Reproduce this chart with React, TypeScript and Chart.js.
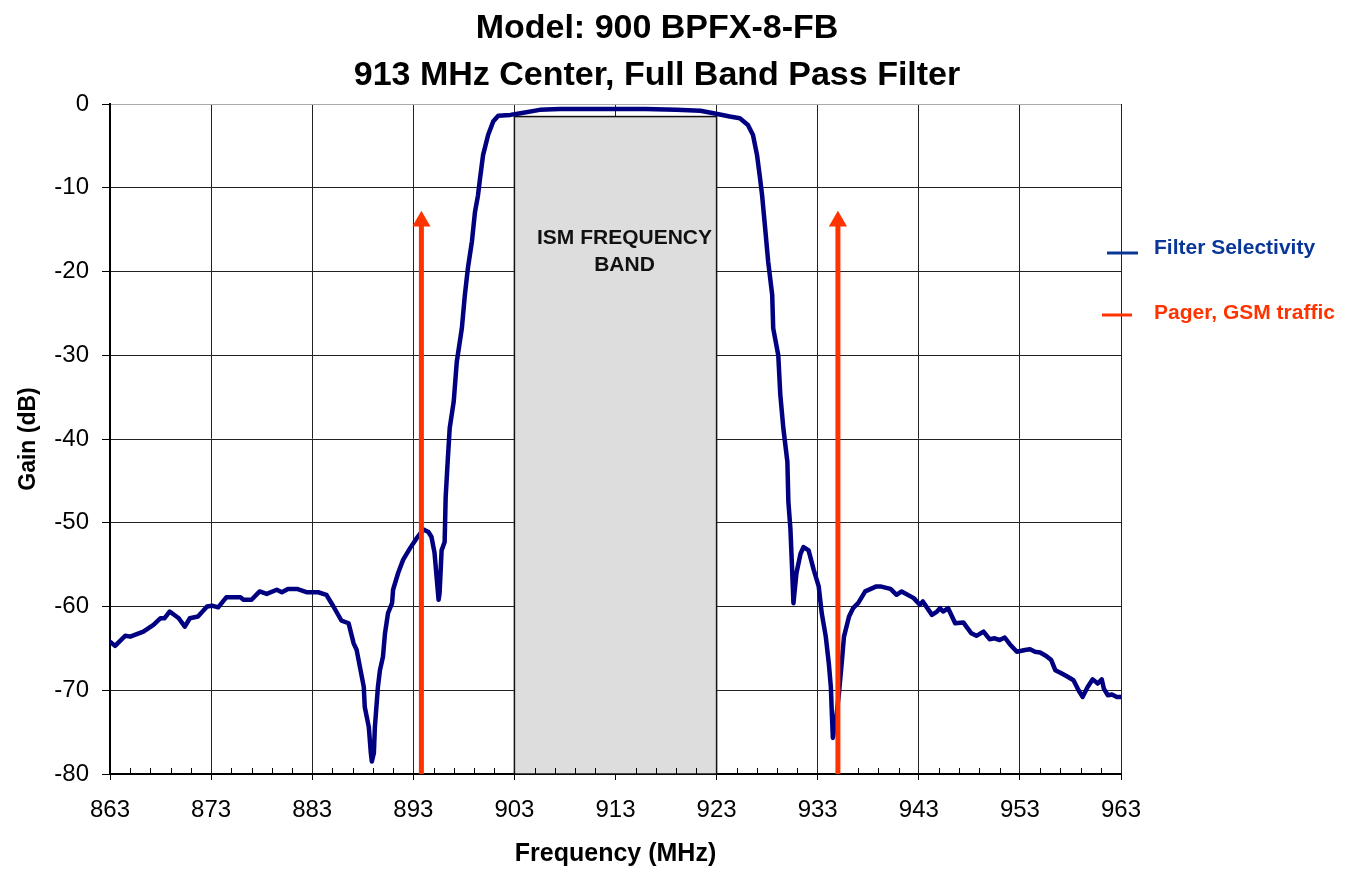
import React, { useEffect, useRef } from 'react';
import { Chart, registerables } from 'chart.js';

Chart.register(...registerables);

const TITLE_LINES = ['Model: 900 BPFX-8-FB', '913 MHz Center, Full Band Pass Filter'];
const X_TITLE = 'Frequency (MHz)';
const Y_TITLE = 'Gain (dB)';

const X_MIN = 863;
const X_MAX = 963;
const X_TICKS = [863, 873, 883, 893, 903, 913, 923, 933, 943, 953, 963];
const X_MINOR_STEP = 2;
const Y_MIN = -80;
const Y_MAX = 0;
const Y_STEP = 10;

const SERIES_FILTER = 'Filter Selectivity';
const SERIES_PAGER = 'Pager, GSM traffic';

const FREQ = [
  863.0, 863.5, 864.5, 865.0, 866.3, 867.3, 868.0, 868.4, 868.9, 869.8,
  870.4, 870.9, 871.7, 872.6, 873.1, 873.7, 874.5, 875.9, 876.2, 877.0,
  877.8, 878.5, 879.5, 880.0, 880.6, 881.5, 882.5, 883.6, 884.4, 885.1,
  885.9, 886.6, 887.1, 887.4, 888.1, 888.2, 888.6, 888.8, 888.9, 889.1,
  889.2, 889.5, 889.7, 890.0, 890.2, 890.5, 890.9, 891.0, 891.5, 892.0,
  892.7, 893.3, 894.0, 894.5, 894.8, 895.1, 895.3, 895.5, 895.6, 895.8,
  896.1, 896.2, 896.4, 896.6, 897.0, 897.3, 897.8, 898.1, 898.4, 898.8,
  899.1, 899.4, 899.6, 899.9, 900.4, 900.9, 901.4, 902.6, 903.6, 905.5,
  907.5, 910.0, 913.0, 916.0, 919.0, 921.4, 922.7, 924.3, 925.3, 926.1,
  926.6, 927.0, 927.3, 927.5, 927.8, 928.1, 928.5, 928.6, 929.1, 929.3,
  929.6, 930.0, 930.1, 930.3, 930.45, 930.6, 930.9, 931.3, 931.6, 932.1,
  932.6, 933.1, 933.4, 933.8, 934.1, 934.3, 934.4, 934.5, 934.8, 935.1,
  935.4, 935.6, 936.1, 936.5, 937.0, 937.7, 938.8, 939.2, 940.2, 940.8,
  941.3, 942.5, 943.1, 943.4, 944.3, 944.8, 945.1, 945.4, 945.9, 946.6,
  947.4, 948.2, 948.7, 949.4, 950.0, 950.5, 951.0, 951.5, 952.0, 952.7,
  953.5, 954.0, 954.5, 955.0, 955.6, 956.1, 956.5, 957.0, 957.6, 958.3,
  958.8, 959.2, 959.7, 960.2, 960.7, 961.1, 961.3, 961.7, 962.1, 962.6,
  963.0,
];

const GAIN = [
  -64.2, -64.7, -63.5, -63.6, -63.0, -62.2, -61.4, -61.4, -60.6, -61.4,
  -62.4, -61.4, -61.2, -60.0, -59.9, -60.1, -58.9, -58.9, -59.2, -59.2,
  -58.2, -58.5, -58.0, -58.3, -57.9, -57.9, -58.3, -58.3, -58.6, -60.0,
  -61.7, -62.0, -64.4, -65.2, -69.6, -72.0, -74.4, -77.5, -78.5, -77.5,
  -74.4, -69.6, -67.6, -66.0, -63.2, -60.8, -59.6, -58.0, -56.0, -54.4,
  -53.0, -51.9, -50.8, -51.1, -51.7, -53.6, -56.4, -59.2, -58.4, -53.3,
  -52.3, -47.0, -42.7, -38.7, -35.5, -30.8, -26.8, -22.8, -19.6, -16.4,
  -12.9, -10.9, -8.9, -6.1, -3.7, -2.1, -1.4, -1.3, -1.1, -0.7,
  -0.6, -0.6, -0.6, -0.6, -0.7, -0.8, -1.1, -1.5, -1.7, -2.5,
  -3.7, -6.1, -8.9, -10.9, -14.8, -18.8, -22.8, -26.8, -30.0, -34.7,
  -38.7, -42.7, -47.5, -50.7, -55.0, -59.6, -56.0, -53.7, -52.9, -53.3,
  -55.6, -57.6, -60.8, -63.6, -66.8, -69.6, -72.8, -75.7, -73.6, -70.4,
  -66.4, -63.6, -61.2, -60.2, -59.6, -58.2, -57.6, -57.6, -57.9, -58.6,
  -58.2, -59.0, -59.8, -59.4, -61.0, -60.6, -60.2, -60.6, -60.2, -62.0,
  -61.9, -63.2, -63.5, -63.0, -63.9, -63.8, -64.0, -63.7, -64.5, -65.4,
  -65.2, -65.1, -65.4, -65.5, -65.9, -66.4, -67.6, -67.9, -68.3, -68.8,
  -70.0, -70.8, -69.6, -68.7, -69.2, -68.7, -69.8, -70.6, -70.5, -70.8,
  -70.8,
];

const ARROW_FREQS = [893.8, 935.0];
const ARROW_BASE = -80;
const ARROW_TIP = -14;

const ISM_START = 903;
const ISM_END = 923;
const ISM_TOP = -1.5;
const ISM_LABEL = ['ISM FREQUENCY', 'BAND'];

const FILTER_COLOR = '#000080';
const FILTER_LEGEND_COLOR = '#0a3797';
const PAGER_COLOR = '#ff3300';
const FONT = '"Liberation Sans", Arial, Helvetica, sans-serif';

const decorPlugin = {
  id: 'decor',
  beforeDatasetsDraw(chart: any) {
    const { ctx, scales } = chart;
    const xs = scales.x;
    const ys = scales.y;
    const x0 = xs.getPixelForValue(ISM_START);
    const x1 = xs.getPixelForValue(ISM_END);
    const y0 = ys.getPixelForValue(ISM_TOP);
    const y1 = ys.getPixelForValue(Y_MIN);
    ctx.save();
    ctx.fillStyle = '#dddddd';
    ctx.fillRect(x0, y0, x1 - x0, y1 - y0);
    ctx.strokeStyle = '#111';
    ctx.lineWidth = 1.5;
    ctx.strokeRect(x0, y0, x1 - x0, y1 - y0);
    ctx.fillStyle = '#111';
    ctx.font = `bold 21px ${FONT}`;
    ctx.textAlign = 'center';
    ctx.textBaseline = 'alphabetic';
    const cx = (x0 + x1) / 2 + 9;
    ISM_LABEL.forEach((t, i) => ctx.fillText(t, cx, y0 + 127 + i * 27));
    // minor ticks
    ctx.strokeStyle = '#000';
    ctx.lineWidth = 1;
    const yb = chart.chartArea.bottom;
    for (let v = X_MIN; v <= X_MAX; v += X_MINOR_STEP) {
      if (X_TICKS.includes(v)) continue;
      const px = Math.round(xs.getPixelForValue(v)) + 0.5;
      ctx.beginPath();
      ctx.moveTo(px, yb);
      ctx.lineTo(px, yb - 6);
      ctx.stroke();
    }
    ctx.restore();
  },
  afterDraw(chart: any) {
    const { ctx } = chart;
    ctx.save();
    ctx.fillStyle = '#000';
    ctx.font = `bold 34px ${FONT}`;
    ctx.textAlign = 'center';
    ctx.textBaseline = 'alphabetic';
    TITLE_LINES.forEach((t, i) => ctx.fillText(t, 657, 38 + i * 47));

    // legend
    const ds = chart.data.datasets;
    const items = [
      { label: ds[1].label, color: FILTER_LEGEND_COLOR, mx0: 1107, mx1: 1138, my: 253, ty: 248 },
      { label: ds[0].label, color: PAGER_COLOR, mx0: 1102, mx1: 1132, my: 315, ty: 313 },
    ];
    ctx.font = `bold 21px ${FONT}`;
    ctx.textAlign = 'left';
    ctx.textBaseline = 'middle';
    items.forEach((it) => {
      ctx.strokeStyle = it.color;
      ctx.lineWidth = 3;
      ctx.beginPath();
      ctx.moveTo(it.mx0, it.my);
      ctx.lineTo(it.mx1, it.my);
      ctx.stroke();
      ctx.fillStyle = it.color;
      ctx.fillText(it.label, 1154, it.ty);
    });
    ctx.restore();
  },
};

export default function App() {
  const canvasRef = useRef<HTMLCanvasElement | null>(null);

  useEffect(() => {
    if (!canvasRef.current) return;
    const curve = FREQ.map((f, i) => ({ x: f, y: GAIN[i] }));
    const arrows: any[] = [];
    ARROW_FREQS.forEach((f, i) => {
      if (i > 0) arrows.push({ x: f, y: null });
      arrows.push({ x: f, y: ARROW_BASE });
      arrows.push({ x: f, y: ARROW_TIP });
    });

    const chart = new Chart(canvasRef.current, {
      type: 'line',
      data: {
        datasets: [
          {
            label: SERIES_PAGER,
            data: arrows,
            borderColor: PAGER_COLOR,
            backgroundColor: PAGER_COLOR,
            borderWidth: 5,
            spanGaps: false,
            order: 0,
            pointStyle: 'triangle',
            pointRadius: (c: any) => (c.raw && c.raw.y === ARROW_TIP ? 10.5 : 0),
            pointBorderWidth: 0,
            pointBackgroundColor: PAGER_COLOR,
            pointHoverRadius: 0,
          } as any,
          {
            label: SERIES_FILTER,
            data: curve,
            borderColor: FILTER_COLOR,
            borderWidth: 4.5,
            pointRadius: 0,
            tension: 0,
            order: 1,
            borderJoinStyle: 'round',
            borderCapStyle: 'round',
          } as any,
        ],
      },
      options: {
        animation: false,
        responsive: false,
        events: [],
        layout: { padding: { left: 0, right: 238, top: 104, bottom: 0 } },
        plugins: {
          legend: { display: false },
          title: { display: false },
          tooltip: { enabled: false },
        },
        scales: {
          x: {
            type: 'linear',
            min: X_MIN,
            max: X_MAX,
            afterBuildTicks: (s: any) => {
              s.ticks = X_TICKS.map((v) => ({ value: v }));
            },
            afterFit: (s: any) => {
              s.height = 99;
            },
            ticks: {
              autoSkip: false,
              maxRotation: 0,
              color: '#000',
              font: { family: FONT, size: 24 },
              padding: 16,
              callback: (v: any) => String(v),
            },
            grid: {
              color: '#222',
              lineWidth: 1,
              tickLength: 6,
              tickColor: '#000',
            },
            border: { display: true, color: '#000', width: 2 },
            title: {
              display: true,
              text: X_TITLE,
              color: '#000',
              font: { family: FONT, size: 25, weight: 'bold' },
              padding: { top: 0, bottom: 4 },
            },
          },
          y: {
            type: 'linear',
            min: Y_MIN,
            max: Y_MAX,
            afterFit: (s: any) => {
              s.width = 110;
            },
            ticks: {
              stepSize: Y_STEP,
              color: '#000',
              font: { family: FONT, size: 24 },
              padding: 13,
            },
            grid: {
              color: (c: any) => (c.tick && c.tick.value === Y_MAX ? '#aaa' : '#222'),
              lineWidth: 1,
              tickLength: 8,
              tickColor: '#000',
            },
            border: { display: true, color: '#000', width: 2 },
            title: {
              display: true,
              text: Y_TITLE,
              color: '#000',
              font: { family: FONT, size: 23, weight: 'bold' },
              padding: { top: 15, bottom: 0 },
            },
          },
        },
      },
      plugins: [decorPlugin],
    } as any);

    return () => chart.destroy();
  }, []);

  return (
    <div style={{ position: 'absolute', left: 0, top: 0, width: 1359, height: 873, background: '#fff' }}>
      <canvas ref={canvasRef} width={1359} height={873} style={{ width: 1359, height: 873, display: 'block' }} />
    </div>
  );
}
